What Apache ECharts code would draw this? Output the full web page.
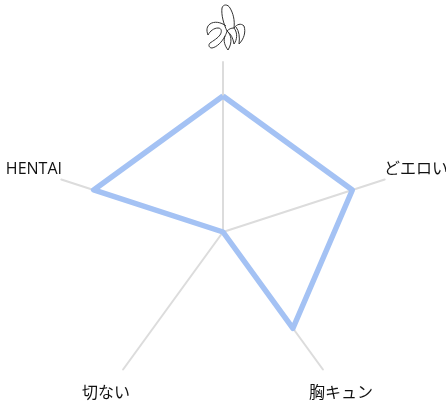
<!DOCTYPE html>
<html><head><meta charset="utf-8">
<style>html,body{margin:0;padding:0;background:#fff}#c{width:446px;height:411px}</style>
<script src="https://cdn.jsdelivr.net/npm/echarts@6/dist/echarts.min.js"></script>
</head><body><div id="c"></div>
<script>
const categories = ['', 'HENTAI', '切ない', '胸キュン', 'どエロい'];
const values = [0.8, 0.8, 0, 0.7, 0.8];
const maxValue = 1;
const chart = echarts.init(document.getElementById('c'));
const banana = 'M17 8C18 4 23 4 25 8C28 13 30 20 29 28C26 28 24 29 22 31C19 25 16 15 17 8Z M21 26C16 22 9 21 5 24C2 26 1 30 3 35C5 31 9 28 13 28C17 28 17 32 15 35C13 38 8 41 5 43C3 45 4 48 7 48C12 47 17 42 20 36C21 34 22 32 22 31 M22 31C26 34 28 42 23 50C20 46 18 41 20 36 M29 28C32 24 36 23 39 26C41 32 39 39 34 44C35 37 34 31 31 27 M29 28C33 33 32 40 29 44C28 38 26 34 22 31';
const labelStyle = { fill: '#111', fontSize: 16, fontFamily: '"Open Sans","Noto Sans CJK JP",sans-serif', verticalAlign: 'middle' };
const labelPlaces = [null, [62, 169, 'right'], [106, 393, 'center'], [309, 393, 'left'], [384, 169, 'left']];
const labels = categories.map((text, i) => labelPlaces[i] && {
  type: 'text', x: labelPlaces[i][0], y: labelPlaces[i][1],
  style: Object.assign({ text, align: labelPlaces[i][2] }, labelStyle)
}).filter(Boolean);
chart.setOption({
  backgroundColor: '#fff',
  animation: false,
  radar: {
    center: [223, 232],
    radius: 170,
    startAngle: 90,
    splitNumber: 1,
    indicator: categories.map(n => ({ name: n, max: maxValue, min: 0 })),
    axisName: { show: false },
    axisLine: { lineStyle: { color: '#dcdcdc', width: 2 } },
    splitLine: { show: false },
    splitArea: { show: false },
    axisTick: { show: false }
  },
  series: [{
    type: 'radar',
    symbol: 'none',
    lineStyle: { color: '#a4c2f4', width: 5.5 },
    itemStyle: { color: '#a4c2f4' },
    data: [{ value: values }]
  }],
  graphic: labels.concat([{
    type: 'image',
    x: 205, y: 0,
    style: {
      image: 'data:image/svg+xml;utf8,' + encodeURIComponent('<svg xmlns="http://www.w3.org/2000/svg" width="44" height="52" viewBox="0 0 44 52"><path d="' + banana + '" fill="none" stroke="#333" stroke-width="1"/></svg>'),
      width: 44, height: 52
    }
  }])
});
</script></body></html>
